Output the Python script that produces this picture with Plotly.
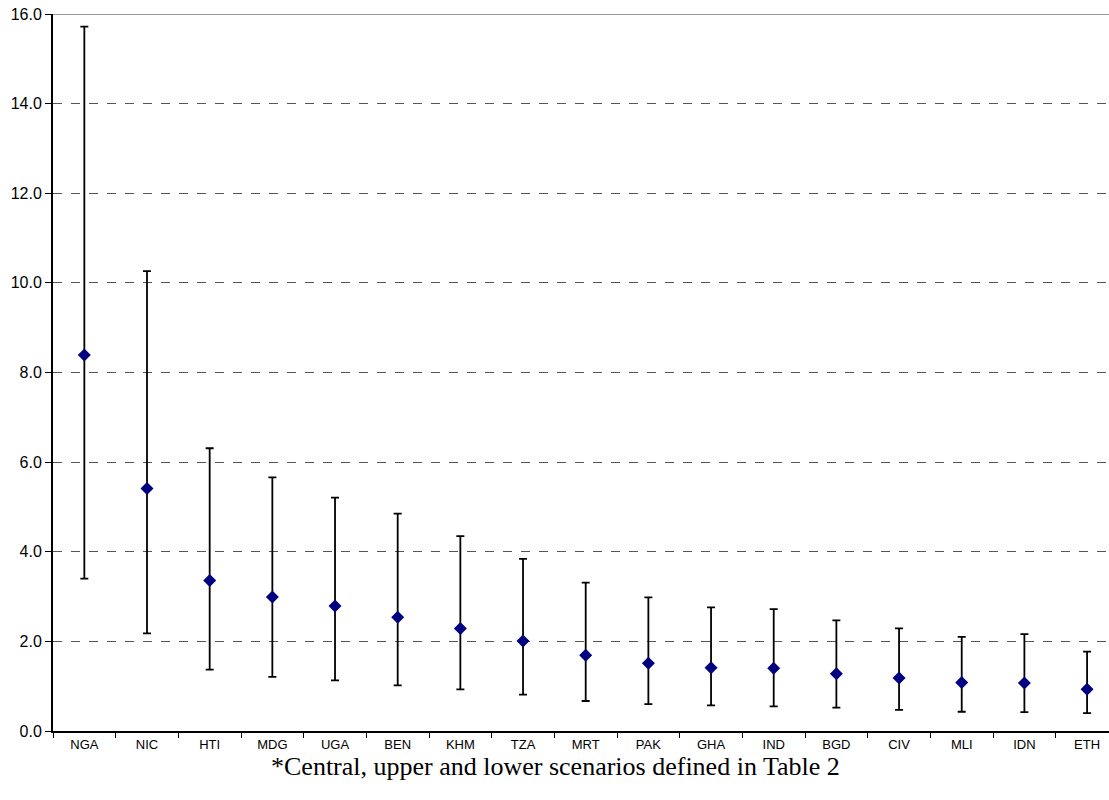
import plotly.graph_objects as go

countries = ["NGA", "NIC", "HTI", "MDG", "UGA", "BEN", "KHM", "TZA", "MRT",
             "PAK", "GHA", "IND", "BGD", "CIV", "MLI", "IDN", "ETH"]
central = [8.39, 5.41, 3.36, 2.99, 2.79, 2.54, 2.29, 2.01, 1.69,
           1.51, 1.41, 1.40, 1.28, 1.18, 1.08, 1.07, 0.93]
upper = [15.72, 10.26, 6.31, 5.66, 5.21, 4.85, 4.35, 3.84, 3.31,
         2.98, 2.76, 2.72, 2.47, 2.29, 2.10, 2.16, 1.77]
lower = [3.40, 2.18, 1.37, 1.21, 1.13, 1.02, 0.93, 0.81, 0.67,
         0.60, 0.57, 0.55, 0.52, 0.47, 0.43, 0.42, 0.40]
y_ticks = [0, 2, 4, 6, 8, 10, 12, 14, 16]
footnote = "*Central, upper and lower scenarios defined in Table 2"

plus = [u - c for u, c in zip(upper, central)]
minus = [c - l for c, l in zip(central, lower)]

fig = go.Figure()
fig.add_trace(go.Scatter(
    x=countries, y=central, mode="markers",
    marker=dict(symbol="diamond", size=10, color="#000080"),
    error_y=dict(type="data", symmetric=False, array=plus, arrayminus=minus,
                 color="black", thickness=1.8, width=4),
    showlegend=False, hoverinfo="x+y",
))

fig.add_shape(type="line", xref="paper", yref="y", x0=0, x1=1, y0=16, y1=16,
              line=dict(color="#999999", width=2), layer="above")

fig.add_annotation(text=footnote, xref="paper", yref="paper", x=0.5, y=0,
                   xshift=-26, yshift=-35, showarrow=False, yanchor="middle",
                   font=dict(family="Liberation Serif, Times New Roman, serif",
                             size=26, color="black"))

fig.update_layout(
    width=1109, height=800,
    margin=dict(l=53, r=0, t=14, b=69),
    paper_bgcolor="white", plot_bgcolor="white",
    font=dict(family="Liberation Sans, Arial, sans-serif", color="black"),
)
fig.update_xaxes(
    type="category", range=[-0.5, 16.35],
    showline=True, linecolor="black", linewidth=2,
    ticks="outside", tickson="boundaries", ticklen=5, tickcolor="black", tickwidth=1,
    tickfont=dict(size=13), showgrid=False, zeroline=False,
)
fig.update_yaxes(
    range=[0, 16], tickvals=y_ticks, tickformat=".1f",
    showline=True, linecolor="black", linewidth=2,
    ticks="outside", ticklen=6, tickcolor="black", tickwidth=1,
    tickfont=dict(size=16),
    showgrid=True, gridcolor="#555555", gridwidth=1, griddash="dash",
    zeroline=False,
)

fig.write_html("out.html")
